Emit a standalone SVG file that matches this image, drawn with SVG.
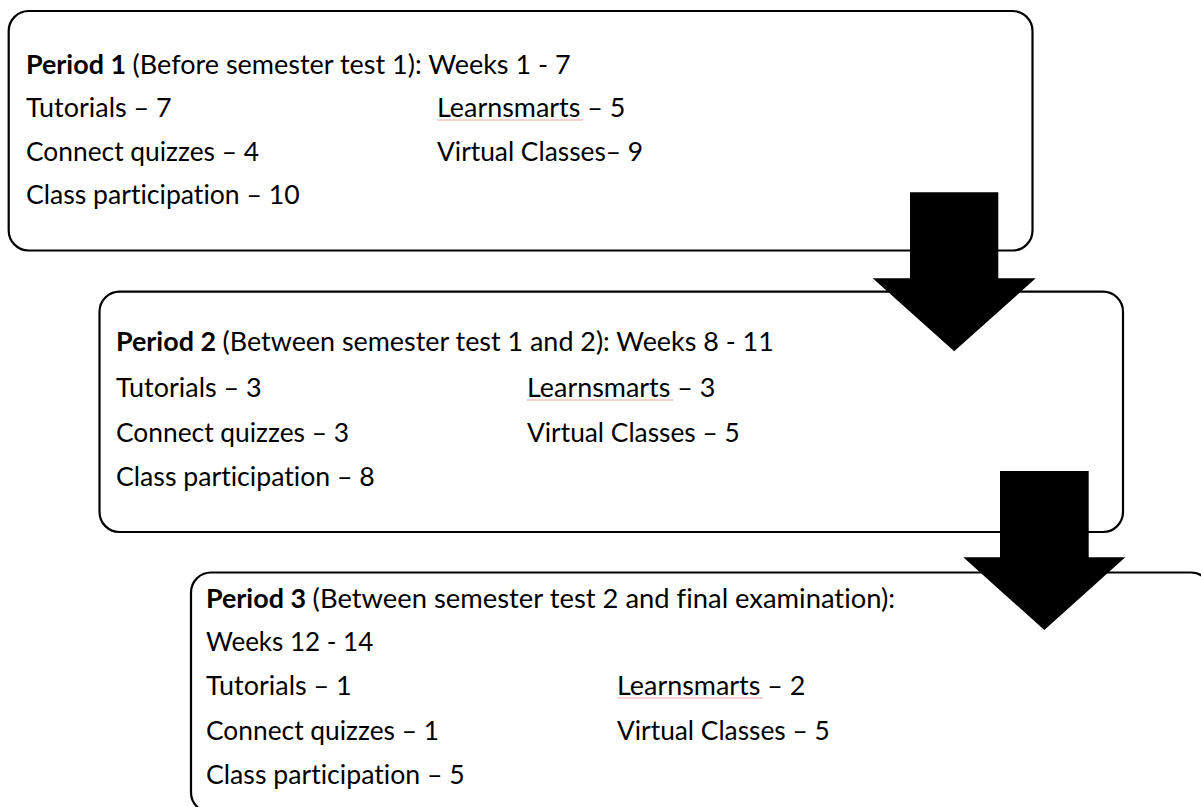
<svg xmlns="http://www.w3.org/2000/svg" width="1201" height="807" viewBox="0 0 1201 807">
<style>
.box{fill:#ffffff;stroke:#000000;stroke-width:2.2}
.t{font-family:Lato,"Open Sans","Liberation Sans",sans-serif;font-size:26.5px;fill:#000000;font-variant-ligatures:none;font-feature-settings:"liga" 0,"clig" 0,"dlig" 0}
.b{font-weight:700}
.arrow{fill:#000000;stroke:none}
.spell{stroke:#f2a7a7;stroke-width:1.2;fill:none}
</style>
<rect width="1201" height="807" fill="#ffffff"/>
<g id="period1">
<rect class="box" x="8.7" y="11" width="1023.8" height="239.5" rx="20" ry="20"/>
<text class="t b" x="26" y="73.5" textLength="100" lengthAdjust="spacingAndGlyphs">Period 1</text>
<text class="t" x="132.6" y="73.5" textLength="438" lengthAdjust="spacingAndGlyphs">(Before semester test 1): Weeks 1 - 7</text>
<text class="t" x="26" y="117" textLength="145.7" lengthAdjust="spacingAndGlyphs">Tutorials – 7</text>
<text class="t" x="26" y="160.5" textLength="233" lengthAdjust="spacingAndGlyphs">Connect quizzes – 4</text>
<text class="t" x="26" y="204" textLength="273.6" lengthAdjust="spacingAndGlyphs">Class participation – 10</text>
<text class="t" x="437" y="117" textLength="188.3" lengthAdjust="spacingAndGlyphs">Learnsmarts – 5</text>
<line class="spell" x1="437" y1="120" x2="583" y2="120"/>
<text class="t" x="437" y="160.5" textLength="206.1" lengthAdjust="spacingAndGlyphs">Virtual Classes– 9</text>
</g>
<g id="period2">
<rect class="box" x="99.5" y="291.7" width="1023.5" height="240.3" rx="20" ry="20"/>
<text class="t b" x="116" y="351" textLength="100" lengthAdjust="spacingAndGlyphs">Period 2</text>
<text class="t" x="222.6" y="351" textLength="551.2" lengthAdjust="spacingAndGlyphs">(Between semester test 1 and 2): Weeks 8 - 11</text>
<text class="t" x="116" y="397" textLength="145.7" lengthAdjust="spacingAndGlyphs">Tutorials – 3</text>
<text class="t" x="116" y="442" textLength="233" lengthAdjust="spacingAndGlyphs">Connect quizzes – 3</text>
<text class="t" x="116" y="486" textLength="258.8" lengthAdjust="spacingAndGlyphs">Class participation – 8</text>
<text class="t" x="527" y="397" textLength="188.3" lengthAdjust="spacingAndGlyphs">Learnsmarts – 3</text>
<line class="spell" x1="527" y1="400" x2="673" y2="400"/>
<text class="t" x="527" y="442" textLength="212.7" lengthAdjust="spacingAndGlyphs">Virtual Classes – 5</text>
</g>
<g id="period3">
<rect class="box" x="191" y="572.5" width="1020" height="240" rx="20" ry="20"/>
<text class="t b" x="206" y="608" textLength="100" lengthAdjust="spacingAndGlyphs">Period 3</text>
<text class="t" x="312.6" y="608" textLength="582.6" lengthAdjust="spacingAndGlyphs">(Between semester test 2 and final examination):</text>
<text class="t" x="206" y="651" textLength="167.2" lengthAdjust="spacingAndGlyphs">Weeks 12 - 14</text>
<text class="t" x="206" y="695" textLength="145.7" lengthAdjust="spacingAndGlyphs">Tutorials – 1</text>
<text class="t" x="206" y="739.5" textLength="233" lengthAdjust="spacingAndGlyphs">Connect quizzes – 1</text>
<text class="t" x="206" y="784" textLength="258.8" lengthAdjust="spacingAndGlyphs">Class participation – 5</text>
<text class="t" x="617" y="695" textLength="188.3" lengthAdjust="spacingAndGlyphs">Learnsmarts – 2</text>
<line class="spell" x1="617" y1="698" x2="763" y2="698"/>
<text class="t" x="617" y="739.5" textLength="212.7" lengthAdjust="spacingAndGlyphs">Virtual Classes – 5</text>
</g>
<g id="connectors">
<polygon class="arrow" points="910,192.3 998.3,192.3 998.3,278.3 1035.7,278.3 954.2,351.3 872.7,278.3 910,278.3"/>
<polygon class="arrow" points="1000,471 1088.7,471 1088.7,557.3 1125.3,557.3 1044.3,630 963.3,557.3 1000,557.3"/>
</g>
</svg>
